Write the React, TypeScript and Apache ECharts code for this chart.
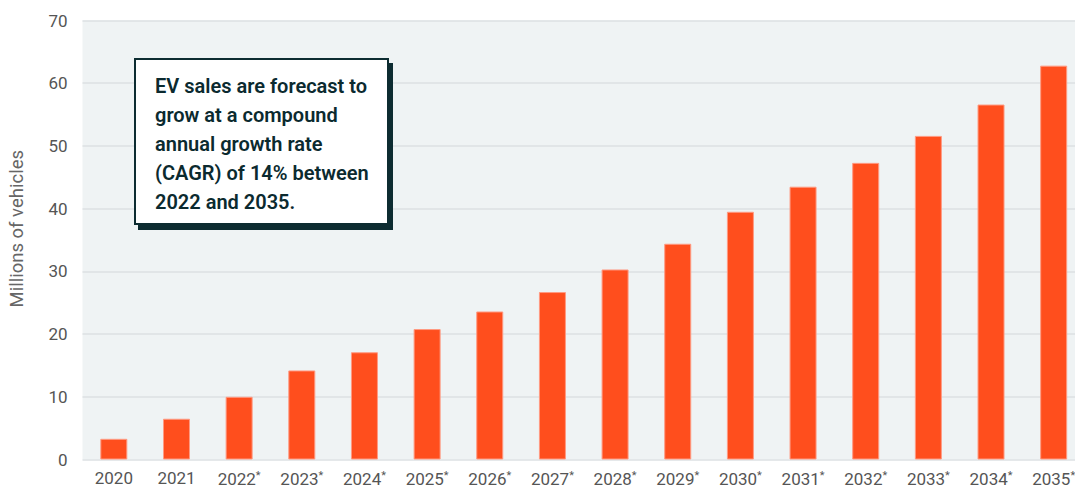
import React, { useEffect, useRef } from "react";
import * as echarts from "echarts";

const categories = [
  "2020", "2021", "2022*", "2023*", "2024*", "2025*", "2026*", "2027*",
  "2028*", "2029*", "2030*", "2031*", "2032*", "2033*", "2034*", "2035*",
];
const salesMillions = [
  3.3, 6.5, 10.0, 14.2, 17.1, 20.8, 23.6, 26.7,
  30.3, 34.4, 39.5, 43.5, 47.3, 51.6, 56.6, 62.8,
];
const yTicks = { min: 0, max: 70, interval: 10 };
const yAxisTitle = "Millions of vehicles";
const calloutLines = [
  "EV sales are forecast to",
  "grow at a compound",
  "annual growth rate",
  "(CAGR) of 14% between",
  "2022 and 2035.",
];

const FONT = "Roboto, 'Noto Sans', sans-serif";

export default function App() {
  const ref = useRef<HTMLDivElement>(null);

  useEffect(() => {
    if (!ref.current) return;
    const chart = echarts.init(ref.current, null, { renderer: "svg" });
    chart.setOption({
      animation: false,
      backgroundColor: "#ffffff",
      grid: {
        left: 82.5,
        right: 15,
        top: 20.5,
        bottom: 26,
        show: true,
        backgroundColor: "#eff3f4",
        borderWidth: 0,
      },
      xAxis: {
        type: "category",
        data: categories,
        axisLine: { show: false },
        axisTick: { show: false },
        axisLabel: {
          interval: 0,
          color: "#555555",
          fontFamily: FONT,
          fontSize: 17,
          margin: 10,
          formatter: (v: string) =>
            v.endsWith("*") ? `${v.slice(0, -1)}{s|*}` : v,
          rich: {
            s: {
              fontSize: 11,
              color: "#555555",
              fontFamily: FONT,
              padding: [0, 0, 7, 0],
            },
          },
        },
      },
      yAxis: {
        type: "value",
        min: yTicks.min,
        max: yTicks.max,
        interval: yTicks.interval,
        axisLine: { show: false },
        axisTick: { show: false },
        axisLabel: {
          color: "#555555",
          fontFamily: FONT,
          fontSize: 17,
          margin: 15,
        },
        splitLine: { lineStyle: { color: "#dde1e3", width: 1.5 } },
      },
      series: [
        {
          type: "bar",
          data: salesMillions,
          barWidth: 27,
          itemStyle: {
            color: "#ff4e1d",
            borderColor: "#ff9a82",
            borderWidth: 1,
          },
        },
      ],
      graphic: [
        {
          type: "text",
          left: 7,
          top: 150,
          z: 100,
          rotation: Math.PI / 2,
          style: {
            text: yAxisTitle,
            fill: "#666666",
            font: `18.5px ${FONT}`,
          },
        },
        {
          type: "group",
          left: 134,
          top: 58,
          z: 100,
          children: [
            {
              type: "rect",
              z: 100,
              shape: { x: 4, y: 5, width: 255, height: 167 },
              style: { fill: "#0d2c31" },
            },
            {
              type: "rect",
              z: 101,
              shape: { x: 1, y: 1, width: 253, height: 165 },
              style: { fill: "#ffffff", stroke: "#0d2c31", lineWidth: 2 },
            },
            {
              type: "text",
              z: 102,
              x: 21,
              y: 13,
              style: {
                text: calloutLines.join("\n"),
                fill: "#0b2a2f",
                font: `600 20px ${FONT}`,
                lineHeight: 29,
              },
            },
          ],
        },
      ],
    });
    return () => chart.dispose();
  }, []);

  return (
    <div
      style={{
        position: "fixed",
        left: 0,
        top: 0,
        width: 1075,
        height: 487,
        overflow: "hidden",
      }}
    >
      <div ref={ref} style={{ width: 1100, height: 487 }} />
    </div>
  );
}
